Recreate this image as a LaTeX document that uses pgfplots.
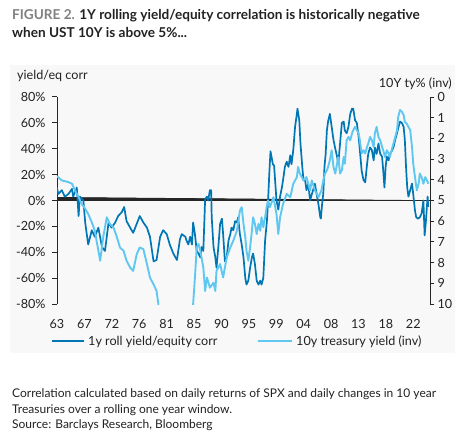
\documentclass[border=0pt]{standalone}
\usepackage{fontspec}
\setmainfont{Lato}
\usepackage{pgfplots}
\pgfplotsset{compat=1.18}
\definecolor{darkb}{RGB}{0,118,180}
\definecolor{lightb}{RGB}{96,200,240}
\definecolor{panel}{RGB}{248,248,248}
\definecolor{figgray}{RGB}{128,128,128}
\definecolor{txt}{RGB}{34,34,34}
\pgfplotstableread{
x y
1963.0 10
1963.2 5
1963.8 8
1964.3 3
1964.9 5
1965.5 9
1965.7 3
1966.3 10
1966.6 -12
1966.8 3
1967.4 0
1967.7 -17
1968.2 -34
1968.8 -23
1969.3 -28
1969.9 -21
1970.5 -36
1971.0 -39
1971.6 -17
1972.1 -21
1972.7 -17
1973.2 -12
1973.8 -9
1974.2 -5
1974.6 -16
1975.2 -21
1975.7 -25
1976.3 -18
1976.8 -12
1977.4 -17
1978.0 -21
1978.5 -28
1979.1 -47
1979.6 -46
1980.2 -28
1980.7 -23
1981.3 -26
1981.8 -34
1982.4 -41
1983.0 -46
1983.5 -30
1983.8 -26
1984.4 -28
1984.6 -31
1984.9 -34
1985.2 -28
1985.5 -34
1985.7 -17
1986.0 -26
1986.3 -39
1986.6 -41
1986.9 -44
1987.1 -36
1987.4 -39
1987.7 1
1988.0 3
1988.2 0
1988.5 8
1988.7 8
1988.8 -13
1989.1 -36
1989.4 -44
1989.6 -52
1989.9 -36
1990.2 -18
1990.5 -14
1990.7 -26
1991.0 -47
1991.3 -44
1991.6 -31
1991.9 -26
1992.1 -21
1992.4 -23
1992.7 -16
1993.0 -17
1993.2 -13
1993.5 -26
1993.8 -34
1994.1 -44
1994.4 -60
1994.6 -65
1994.9 -62
1995.2 -52
1995.5 -44
1995.7 -41
1996.0 -49
1996.3 -62
1996.6 -65
1996.9 -62
1997.1 -65
1997.4 -60
1997.7 -31
1998.0 -16
1998.2 0
1998.4 21
1998.6 38
1999.0 28
1999.2 27
1999.6 0
1999.9 -7
2000.2 3
2000.5 10
2000.7 16
2001.0 26
2001.3 30
2001.6 26
2001.9 35
2002.1 28
2002.4 39
2002.7 57
2003.0 67
2003.1 71
2003.4 62
2003.6 44
2003.9 26
2004.1 16
2004.4 15
2004.6 8
2004.9 13
2005.2 0
2005.5 5
2005.7 8
2006.0 13
2006.3 5
2006.6 -3
2006.9 -13
2007.0 -14
2007.2 -3
2007.4 5
2007.6 26
2007.8 36
2008.0 54
2008.2 61
2008.5 67
2008.8 57
2009.1 47
2009.4 40
2009.7 34
2009.9 28
2010.2 44
2010.5 60
2010.8 61
2011.0 54
2011.3 52
2011.6 57
2011.9 67
2012.2 71
2012.4 71
2012.7 62
2013.0 60
2013.3 49
2013.5 39
2013.8 23
2014.1 16
2014.4 14
2014.7 28
2014.9 36
2015.2 41
2015.5 39
2015.8 31
2016.0 41
2016.3 36
2016.6 44
2016.9 36
2017.2 34
2017.4 23
2017.6 10
2017.8 26
2018.0 34
2018.3 31
2018.5 36
2018.8 38
2019.1 41
2019.4 47
2019.7 52
2019.9 56
2020.2 61
2020.5 60
2020.8 57
2021.0 47
2021.2 26
2021.4 10
2021.6 3
2021.9 8
2022.2 13
2022.4 5
2022.7 -8
2022.9 -13
2023.2 -14
2023.5 -13
2023.8 -10
2024.1 0
2024.3 -27
2024.5 -17
2024.8 3
2024.9 -5
}\corrdata
\pgfplotstableread{
x y
1963.0 3.83
1963.8 4.03
1964.9 4.11
1965.5 4.19
1966.0 4.51
1966.6 4.84
1967.1 5.16
1967.7 5.40
1968.2 5.65
1968.8 6.05
1969.3 6.46
1969.9 7.43
1970.2 7.91
1970.7 6.78
1971.3 5.81
1971.8 6.13
1972.4 6.29
1973.0 6.78
1973.5 7.27
1974.1 7.43
1974.6 7.91
1975.2 8.24
1975.7 8.40
1976.3 7.59
1976.8 7.27
1977.4 7.35
1978.0 8.07
1978.5 8.72
1979.1 9.05
1979.6 9.37
1979.9 10.0
1980.5 11.0
1981.3 12.5
1982.2 13.5
1982.8 14.8
1983.5 13.5
1984.2 12.5
1984.9 11.5
1985.4 10.8
1985.7 10.0
1986.0 8.72
1986.3 7.27
1986.6 7.10
1986.9 7.43
1987.4 8.24
1987.7 9.37
1988.0 8.72
1988.5 9.21
1989.1 8.97
1989.4 9.37
1989.6 8.40
1990.2 8.07
1990.7 8.72
1991.3 7.75
1991.9 7.27
1992.4 6.94
1993.0 6.46
1993.5 5.49
1993.8 5.32
1994.1 6.13
1994.4 6.78
1994.6 7.43
1994.9 7.91
1995.2 7.27
1995.5 6.46
1995.7 5.81
1996.0 6.13
1996.3 6.62
1996.6 6.13
1996.9 6.46
1997.1 5.81
1997.4 6.29
1997.7 5.81
1998.0 5.24
1998.2 5.00
1998.5 5.32
1999.1 4.84
1999.6 5.65
1999.9 6.62
2000.2 5.81
2000.7 5.16
2001.3 4.68
2001.9 4.84
2002.4 4.19
2003.0 3.87
2003.2 3.38
2003.5 3.70
2004.1 4.03
2004.6 3.87
2005.2 4.51
2005.5 4.03
2006.0 4.51
2006.6 4.84
2007.1 4.51
2007.4 4.03
2007.7 3.70
2008.0 3.54
2008.2 3.38
2008.5 3.06
2008.8 2.57
2009.1 3.38
2009.4 3.70
2009.7 3.22
2009.9 2.90
2010.2 3.70
2010.5 3.54
2010.8 2.90
2011.0 3.22
2011.3 2.09
2011.6 1.93
2011.9 2.09
2012.2 1.76
2012.4 1.60
2012.7 1.44
2013.0 1.60
2013.3 1.76
2013.5 2.09
2013.8 2.73
2014.1 2.57
2014.4 2.73
2014.7 2.41
2014.9 2.25
2015.2 1.93
2015.5 2.09
2015.8 2.41
2016.0 1.76
2016.3 1.44
2016.6 1.93
2016.9 2.09
2017.2 2.41
2017.4 2.57
2017.7 2.90
2018.0 2.57
2018.3 2.73
2018.5 2.90
2018.8 2.57
2019.1 2.25
2019.4 1.93
2019.7 1.60
2019.9 0.96
2020.2 0.63
2020.5 0.71
2020.8 0.87
2021.0 1.20
2021.3 1.28
2021.6 1.44
2021.9 1.60
2022.2 2.41
2022.4 3.22
2022.7 3.87
2023.0 4.51
2023.3 4.19
2023.5 3.70
2023.8 3.87
2024.1 4.19
2024.4 3.87
2024.7 4.03
2024.9 4.19
}\yielddata
\begin{document}
\begin{tikzpicture}[x=1pt,y=1pt]
\useasboundingbox (0,0) rectangle (460,437);
\fill[white] (0,0) rectangle (460,437);
\fill[panel] (10,84) rectangle (455,372);
% title
\node[anchor=base west, inner sep=0, font=\fontsize{13.6}{16}\selectfont\bfseries, text=txt] at (12,417.5)
  {\textcolor{figgray}{FIGURE 2.} 1Y rolling yield/equity correlation is historically negative};
\node[anchor=base west, inner sep=0, font=\fontsize{13.6}{16}\selectfont\bfseries, text=txt] at (12,399.5)
  {when UST 10Y is above 5\%...};
% axis titles
\node[anchor=base west, inner sep=0, font=\fontsize{12.6}{14}\selectfont, text=txt] at (17,357) {yield/eq corr};
\node[anchor=base east, inner sep=0, font=\fontsize{12.6}{14}\selectfont, text=txt] at (452,349) {10Y ty\% (inv)};
\begin{axis}[
  at={(57pt,133pt)}, anchor=south west, scale only axis,
  width=373pt, height=207pt,
  xmin=1963, xmax=2025.2, ymin=-80, ymax=80,
  axis y line*=left, axis x line*=bottom,
  x axis line style={draw=none},
  xtick={1963,1967.57,1972.14,1976.71,1981.28,1985.85,1990.42,1994.99,1999.56,2004.13,2008.7,2013.27,2017.84,2022.41},
  xticklabels={63,67,72,76,81,85,90,95,99,04,08,13,18,22},
  xtick style={draw=none},
  ytick={-80,-60,...,80},
  yticklabel={\pgfmathprintnumber{\tick}\%},
  /pgf/number format/assume math mode=true,
  tick align=outside, major tick length=5pt,
  y axis line style={line width=1pt, black!85},
  ytick style={line width=1pt, black!85},
  ticklabel style={font=\fontsize{12.6}{14}\selectfont, text=txt},
  xticklabel style={yshift=-7pt},
  yticklabel style={xshift=-3pt},
  clip=true,
]
\addplot[black!85, line width=0.8pt, forget plot] coordinates {(1963,0) (2025.2,0)};
\pgfplotsinvokeforeach{1967.57,1972.14,1976.71,1981.28,1985.85,1990.42,1994.99,1999.56,2004.13,2008.7,2013.27,2017.84,2022.41}{
  \draw[black!85, line width=0.8pt] (axis cs:#1,0) -- ++(0,-4pt);
}
\addplot[darkb, line width=1.7pt, line join=round] table[x=x,y=y] {\corrdata};
\end{axis}
\begin{axis}[
  at={(57pt,133pt)}, anchor=south west, scale only axis,
  width=373pt, height=207pt,
  xmin=1963, xmax=2025.2, ymin=0, ymax=10, y dir=reverse,
  axis y line*=right, axis x line=none,
  ytick={0,1,...,10},
  /pgf/number format/assume math mode=true,
  tick align=outside, major tick length=4pt,
  y axis line style={line width=1pt, black!85},
  ytick style={line width=1pt, black!85},
  ticklabel style={font=\fontsize{12.6}{14}\selectfont, text=txt},
  yticklabel style={xshift=0pt},
  clip=true,
]
\addplot[lightb, line width=1.9pt, line join=round] table[x=x,y=y] {\yielddata};
\end{axis}
% legend
\draw[darkb, line width=2pt] (52,96) -- (84,96);
\node[anchor=base west, inner sep=0, font=\fontsize{12.6}{14}\selectfont, text=txt] at (88,91.5) {1y roll yield/equity corr};
\draw[lightb, line width=2pt] (258,96) -- (292,96);
\node[anchor=base west, inner sep=0, font=\fontsize{12.6}{14}\selectfont, text=txt] at (296,91.5) {10y treasury yield (inv)};
% footnote
\node[anchor=base west, inner sep=0, font=\fontsize{12}{14}\selectfont, text=txt] at (12,39.5) {Correlation calculated based on daily returns of SPX and daily changes in 10 year};
\node[anchor=base west, inner sep=0, font=\fontsize{12}{14}\selectfont, text=txt] at (12,24) {Treasuries over a rolling one year window.};
\node[anchor=base west, inner sep=0, font=\fontsize{12}{14}\selectfont, text=txt] at (12,8.5) {Source: Barclays Research, Bloomberg};
\end{tikzpicture}
\end{document}
